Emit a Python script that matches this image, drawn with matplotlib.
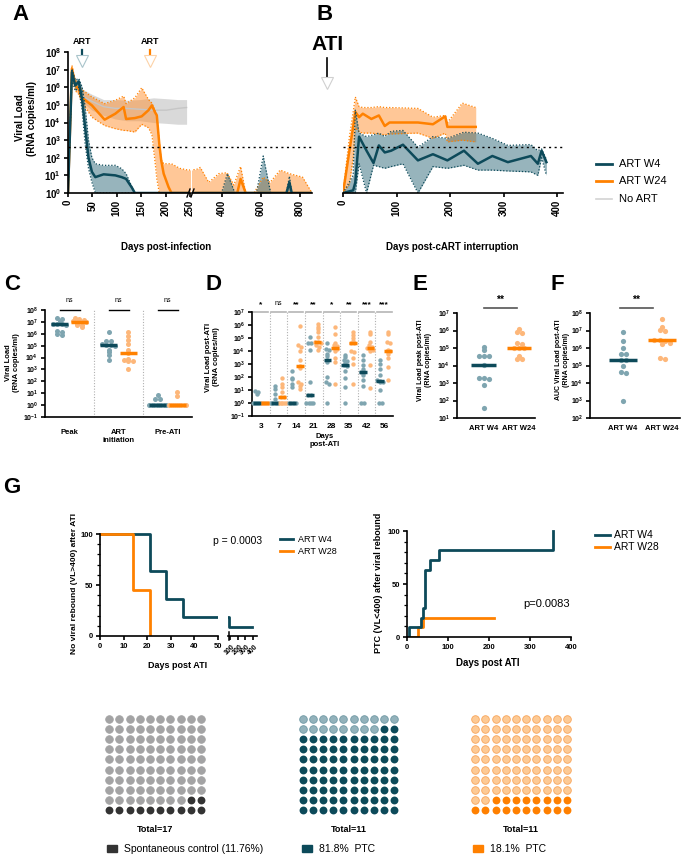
import numpy as np
import matplotlib
matplotlib.use('Agg')
import matplotlib.pyplot as plt
from matplotlib.lines import Line2D
from matplotlib.patches import Rectangle
from matplotlib.ticker import MultipleLocator, NullLocator
import matplotlib.transforms as mtransforms

plt.rcParams['font.family'] = ['Liberation Sans', 'DejaVu Sans']
plt.rcParams['mathtext.fontset'] = 'custom'
plt.rcParams['mathtext.rm'] = 'Liberation Sans'
plt.rcParams['mathtext.bf'] = 'Liberation Sans:bold'
plt.rcParams['axes.linewidth'] = 1.2
plt.rcParams['xtick.major.width'] = 1.2
plt.rcParams['ytick.major.width'] = 1.2
plt.rcParams['xtick.major.size'] = 3
plt.rcParams['ytick.major.size'] = 3
plt.rcParams['xtick.major.pad'] = 2
plt.rcParams['ytick.major.pad'] = 2

# colours
TEAL = '#0d4a5a'
TEAL_FILL = '#316b7b'
TEAL_DOT = '#7fa5b0'
ORANGE = '#ff8100'
ORANGE_FILL = '#ff9030'
ORANGE_DOT = '#fdb77a'
GREY_FILL = '#d9d9d9'

# ---------- A: viral load (log10) vs days post-infection
a_w4_days = [0, 8, 15, 22, 29, 35, 42, 49, 56, 73, 97, 110, 119, 131, 137,
             400, 430, 468, 578, 612, 650, 730, 745, 757, 860]
a_w4_mean = [0, 6.86, 6.1, 6.33, 5.3, 3.75, 2.0, 1.2, 0.9, 1.06, 1.0, 0.9, 0.8, 0.3, 0,
             0, 0, 0, 0, 0, 0, 0, 0.6, 0, 0]
a_w4_upper = [0, 7.05, 6.4, 6.5, 6.0, 4.9, 3.0, 2.0, 1.66, 1.57, 1.57, 1.38, 1.1, 0.34, 0,
              0, 1.1, 0, 0, 2.1, 0, 0, 0.95, 0, 0]
a_w4_lower = [0, 6.4, 5.8, 6.0, 4.7, 2.8, 1.4, 0.6, 0, 0, 0, 0, 0, 0, 0,
              0, 0, 0, 0, 0, 0, 0, 0, 0, 0]

a_w24_days = [0, 8, 15, 22, 27, 49, 75, 97, 114, 119, 137, 151, 165, 172, 178, 182, 187,
              191, 196, 206, 212, 229, 246, 275, 292, 335, 386, 428, 463, 480, 497, 523,
              565, 612, 647, 698, 745, 812, 860]
a_w24_mean = [0, 7.05, 6.1, 5.9, 5.45, 4.97, 4.16, 4.5, 4.88, 4.2, 4.25, 4.35, 4.7, 4.97,
              4.6, 4.4, 2.8, 1.85, 1.1, 0.34, 0, 0, 0, 0, 0, 0, 0, 0, 0, 0, 0.8, 0,
              0, 0, 0, 0, 0, 0, 0]
a_w24_upper = [0, 7.25, 6.4, 6.2, 5.9, 5.45, 5.07, 5.26, 5.5, 5.07, 5.4, 5.97, 5.3, 5.1,
               4.7, 4.45, 2.9, 1.9, 1.66, 1.66, 1.66, 1.4, 1.3, 1.35, 1.45, 0.6, 1.1, 1.15,
               0.45, 1.0, 1.5, 0, 0, 0.9, 0.6, 1.3, 1.1, 0.9, 0]
a_w24_lower = [0, 6.77, 5.8, 5.6, 5.2, 4.3, 3.83, 3.65, 3.55, 3.55, 3.46, 3.9, 3.7, 3.3,
               1.85, 0.8, 0, 0, 0, 0, 0, 0, 0, 0, 0, 0, 0, 0, 0, 0, 0, 0,
               0, 0, 0, 0, 0, 0, 0]

a_noart_days = [22, 49, 73, 97, 121, 148, 175, 202, 225, 243]
a_noart_mean = [5.6, 5.2, 4.9, 4.8, 4.8, 4.75, 4.7, 4.7, 4.8, 4.85]
a_noart_upper = [6.0, 5.6, 5.3, 5.3, 5.26, 5.3, 5.4, 5.35, 5.3, 5.3]
a_noart_lower = [5.35, 4.7, 4.4, 4.2, 4.1, 4.1, 4.0, 3.95, 3.9, 3.9]

art_start_days = [28, 168]

# ---------- B: viral load (log10) vs days post-cART interruption
b_w4_days = [0, 19, 23, 30, 44, 57, 67, 78, 90, 112, 140, 168, 195, 226, 252, 279, 308,
             351, 364, 371, 380]
b_w4_mean = [0, 0.15, 0.6, 3.2, 2.4, 1.7, 2.7, 2.3, 2.4, 2.74, 1.85, 2.2, 1.85, 2.4, 1.66,
             2.1, 1.75, 2.1, 1.66, 2.4, 1.75]
b_w4_upper = [0, 1.0, 4.7, 3.4, 3.2, 3.3, 3.4, 3.2, 3.5, 3.55, 2.6, 3.2, 3.1, 3.45, 3.4,
              3.1, 2.7, 2.75, 2.4, 2.5, 1.9]
b_w4_lower = [0, 0, 0, 1.66, 0, 1.57, 1.5, 1.4, 1.5, 1.66, 0, 1.5, 1.4, 1.57, 1.3,
              1.3, 1.25, 1.2, 1.0, 2.0, 1.0]

b_w24_days = [0, 12, 19, 23, 30, 37, 53, 67, 78, 87, 140, 168, 191, 195, 223, 248]
b_w24_mean = [0, 2.4, 3.75, 4.6, 4.3, 4.5, 4.2, 4.4, 3.8, 4.0, 4.0, 3.9, 4.35, 3.75, 3.75, 3.75]
b_w24_upper = [0, 3.2, 4.6, 5.45, 4.9, 4.85, 4.85, 4.9, 4.85, 4.85, 4.8, 4.3, 4.4, 4.0, 5.1, 4.85]
b_w24_lower = [0, 0.5, 2.0, 3.7, 3.46, 3.4, 3.4, 3.35, 3.3, 3.35, 3.4, 3.1, 3.4, 2.9, 3.0, 2.9]

# ---------- C: viral load at peak, ART initiation, pre-ATI (11 animals / group)
c_groups = ['Peak', 'ART\ninitiation', 'Pre-ATI']
c_w4 = [[2e7, 1.8e7, 1.2e7, 7e6, 7e6, 7e6, 6e6, 1.6e6, 1.5e6, 1e6, 8e5],
        [1.4e6, 2.5e5, 2.5e5, 1.3e5, 1.1e5, 1.1e5, 1e5, 4.5e4, 3e4, 1.8e4, 6e3],
        [7, 3, 3, 1, 1, 1, 1, 1, 1, 1, 1]]
c_w24 = [[2e7, 1.6e7, 1.5e7, 1.2e7, 1e7, 1e7, 9e6, 8e6, 6e6, 5e6, 4e6],
         [1.4e6, 6e5, 3e5, 1.5e5, 4e4, 2.4e4, 8e3, 6e3, 5e3, 5e3, 1e3],
         [12, 6, 1, 1, 1, 1, 1, 1, 1, 1, 1]]
c_signif = ['ns', 'ns', 'ns']

# ---------- D: viral load by day post-ATI
d_days = ['3', '7', '14', '21', '28', '35', '42', '56']
d_w4 = [[8, 7, 5, 1, 1, 1, 1, 1, 1, 1, 1],
        [20, 12, 5, 2, 1, 1, 1, 1, 1, 1, 1],
        [300, 90, 70, 30, 16, 1, 1, 1, 1, 1, 1],
        [1.2e5, 4e4, 4e4, 1.2e4, 40, 4, 4, 1, 1, 1, 1],
        [4e4, 1.5e4, 1.2e4, 6e3, 4e3, 2e3, 1.5e3, 100, 40, 30, 1],
        [5e3, 3.5e3, 2e3, 1.6e3, 1.2e3, 900, 700, 300, 90, 16, 1],
        [5e3, 2e3, 800, 400, 230, 230, 150, 60, 20, 1, 1],
        [2e3, 1e3, 400, 150, 60, 50, 45, 40, 10, 1, 1]]
d_w24 = [[1, 1, 1, 1, 1, 1, 1, 1, 1, 1, 1],
         [80, 30, 16, 7, 3, 3, 1, 1, 1, 1, 1],
         [8e5, 3e4, 2e4, 1e4, 2e3, 700, 500, 40, 30, 20, 12],
         [1.3e6, 7e5, 5e5, 3e5, 1.2e5, 5e4, 5e4, 4e4, 3e4, 2e4, 1.2e4],
         [7e5, 2e5, 4e4, 3e4, 2.5e4, 1.8e4, 1.5e4, 1e4, 3e3, 1.5e3, 30],
         [3e5, 1.6e5, 1e5, 6e4, 4e4, 4e4, 1e4, 8e3, 3e3, 1e3, 30],
         [3e5, 2e5, 5e4, 3e4, 2e4, 1.6e4, 1.5e4, 1.2e4, 1e4, 800, 14],
         [3e5, 2e5, 5e4, 4e4, 1.2e4, 1e4, 1e4, 6e3, 3e3, 600, 60]]
d_signif = ['*', 'ns', '**', '**', '*', '**', '***', '***']

# ---------- E / F: peak and AUC viral load post-ATI
e_w4 = [1.2e5, 8e4, 3.5e4, 3.5e4, 3.5e4, 1.1e4, 2e3, 2e3, 1.8e3, 800, 35]
e_w24 = [1.3e6, 8e5, 7e5, 1.9e5, 1.8e5, 1e5, 1e5, 1e5, 3.5e4, 2.5e4, 2.5e4]
f_w4 = [8.7e6, 2.5e6, 1e6, 4.5e5, 4.5e5, 2e5, 2e5, 1e5, 4e4, 3.5e4, 900]
f_w24 = [4.5e7, 1.6e7, 1.1e7, 1e7, 3e6, 2.8e6, 2.5e6, 2e6, 1.7e6, 2.7e5, 2.5e5]
ef_groups = ['ART W4', 'ART W24']

# ---------- G: survival-type curves
km1_w4_days = [0, 21, 28, 35, 90, 380]
km1_w4_pct = [100, 63.6, 36.4, 18.2, 9.1, 9.1]
km1_w28_days = [0, 14, 21]
km1_w28_pct = [100, 45.5, 0]
km2_w4_days = [0, 4, 34, 38, 43, 45, 57, 77, 355]
km2_w4_pct = [0, 9.1, 18.2, 27.3, 36.4, 63.6, 72.7, 81.8, 100]
km2_w28_days = [0, 28, 38, 212]
km2_w28_pct = [0, 9.1, 18.2, 18.2]

waffle_dark = [12, 82, 18]
waffle_totals = ['Total=17', 'Total=11', 'Total=11']
waffle_labels = ['Spontaneous control (11.76%)', '81.8%  PTC', '18.1%  PTC']

W, H = 685, 857
fig = plt.figure(figsize=(W / 100, H / 100), dpi=100)


def px_axes(x0, y0, x1, y1):
    return fig.add_axes([x0 / W, 1 - y1 / H, (x1 - x0) / W, (y1 - y0) / H])


def ftext(x, y, s, **kw):
    return fig.text(x / W, 1 - y / H, s, **kw)


def fline(xs, ys, **kw):
    fig.add_artist(Line2D([x / W for x in xs], [1 - y / H for y in ys], **kw))


def log_yticks(ax, lo, hi, size):
    ax.set_yticks([10.0 ** k for k in range(lo, hi + 1)])
    ax.set_yticklabels([r'$\mathbf{10^{%d}}$' % k for k in range(lo, hi + 1)], fontsize=size)
    ax.yaxis.set_minor_locator(NullLocator())


def band(ax, days, mean, upper, lower, line_col, fill_col, alpha, dotted=True, lw=1.8):
    d = np.asarray(days, float)
    m, u, l = (10.0 ** np.asarray(v, float) for v in (mean, upper, lower))
    ax.fill_between(d, l, u, color=fill_col, alpha=alpha, lw=0)
    if dotted:
        ax.plot(d, u, color=line_col, ls=(0, (1, 1.5)), lw=0.9)
        ax.plot(d, l, color=line_col, ls=(0, (1, 1.5)), lw=0.9)
    ax.plot(d, m, color=line_col, lw=lw)


def swarm_offsets(vals, step, max_half):
    keys = np.round(np.log10(vals) / 0.22)
    off = np.zeros(len(vals))
    for k in np.unique(keys):
        idx = np.where(keys == k)[0]
        n = len(idx)
        if n > 1:
            st = min(step, 2 * max_half / (n - 1))
            off[idx] = (np.arange(n) - (n - 1) / 2) * st
    return off


def dot_group(ax, x0, vals, dot_col, med_col, step, max_half, med_half, s):
    vals = np.asarray(vals, float)
    ax.scatter(x0 + swarm_offsets(vals, step, max_half), vals, s=s, color=dot_col,
               lw=0, zorder=3, clip_on=False)
    med = np.median(vals)
    ax.plot([x0 - med_half, x0 + med_half], [med, med], color=med_col, lw=2.5,
            solid_capstyle='butt', zorder=4)


def clean(ax):
    ax.spines[['top', 'right']].set_visible(False)


# ================= Panel A
axA1 = px_axes(68, 52, 190, 193)
axA2 = px_axes(192, 52, 312, 193)
for ax in (axA1, axA2):
    ax.set_yscale('log')
    ax.set_ylim(1, 1e8)
    band(ax, a_noart_days, a_noart_mean, a_noart_upper, a_noart_lower, '#c6c6c6', GREY_FILL, 1.0,
         dotted=False, lw=1.0)
    band(ax, a_w24_days, a_w24_mean, a_w24_upper, a_w24_lower, ORANGE, ORANGE_FILL, 0.5)
    band(ax, a_w4_days, a_w4_mean, a_w4_upper, a_w4_lower, TEAL, TEAL_FILL, 0.5)
    ax.axhline(400, color='black', ls=(0, (1.5, 2.5)), lw=1)
    clean(ax)
axA1.set_xlim(0, 250)
axA1.set_xticks([0, 50, 100, 150, 200, 250])
axA1.set_xticklabels(['0', '50', '100', '150', '200', '250'], rotation=90, fontsize=7,
                     fontweight='bold')
log_yticks(axA1, 0, 8, 7)
axA2.set_xlim(250, 860)
axA2.set_xticks([400, 600, 800])
axA2.set_xticklabels(['400', '600', '800'], rotation=90, fontsize=7, fontweight='bold')
axA2.spines['left'].set_visible(False)
axA2.tick_params(axis='y', which='both', left=False, labelleft=False)
fline([187, 190], [197, 189], color='black', lw=1)
fline([191, 194], [197, 189], color='black', lw=1)

trA = mtransforms.blended_transform_factory(axA1.transData, axA1.transAxes)
for day, col, light in zip(art_start_days, [TEAL, ORANGE], ['#a9c4cb', '#fcd2a8']):
    axA1.text(day, 1.078, 'ART', transform=trA, ha='center', va='center', fontsize=6.5,
              fontweight='bold', clip_on=False)
    axA1.plot([day, day], [1.015, 0.972], transform=trA, color=col, lw=1.6, clip_on=False)
    axA1.plot([day], [0.935], transform=trA, marker='v', ms=8, mfc='white', mec=light,
              mew=0.8, clip_on=False)

ftext(26, 118, 'Viral Load\n(RNA copies/ml)', rotation=90, ha='center', va='center',
      fontsize=7, fontweight='bold', multialignment='center')
ftext(166, 247, 'Days post-infection', ha='center', va='center', fontsize=7, fontweight='bold')

# ================= Panel B
axB = px_axes(343, 52, 563, 193)
axB.set_yscale('log')
axB.set_ylim(1, 1e8)
band(axB, b_w24_days, b_w24_mean, b_w24_upper, b_w24_lower, ORANGE, ORANGE_FILL, 0.5)
band(axB, b_w4_days, b_w4_mean, b_w4_upper, b_w4_lower, TEAL, TEAL_FILL, 0.5)
axB.axhline(400, color='black', ls=(0, (1.5, 2.5)), lw=1)
axB.set_xlim(0, 411)
axB.set_xticks([0, 100, 200, 300, 400])
axB.set_xticklabels(['0', '100', '200', '300', '400'], rotation=90, fontsize=7, fontweight='bold')
axB.spines[['top', 'right', 'left']].set_visible(False)
axB.tick_params(axis='y', which='both', left=False, labelleft=False)
ftext(452, 247, 'Days post-cART interruption', ha='center', va='center', fontsize=7,
      fontweight='bold')
ftext(328, 44, 'ATI', ha='center', va='center', fontsize=15, fontweight='bold')
fline([327, 327], [58, 78], color='black', lw=1.2)
fig.add_artist(Line2D([327 / W], [1 - 83 / H], marker='v', ms=8, mfc='white', mec='#d0d0d0',
                      mew=0.8))

for y, col, lab in zip([164, 181, 199], [TEAL, ORANGE, '#d3d3d3'], ['ART W4', 'ART W24', 'No ART']):
    fline([596, 612], [y, y], color=col, lw=2 if lab != 'No ART' else 1.2)
    ftext(619, y, lab, ha='left', va='center', fontsize=8)

# ================= Panel C
axC = px_axes(45, 310, 192, 417)
axC.set_yscale('log')
axC.set_ylim(0.1, 1e8)
axC.set_xlim(-0.5, 2.5)
trC = mtransforms.blended_transform_factory(axC.transData, axC.transAxes)
for i in range(3):
    dot_group(axC, i - 0.2, c_w4[i], TEAL_DOT, TEAL, 0.09, 0.17, 0.17, 13)
    dot_group(axC, i + 0.2, c_w24[i], ORANGE_DOT, ORANGE, 0.09, 0.17, 0.17, 13)
    axC.plot([i - 0.2, i + 0.22], [1.0, 1.0], transform=trC, color='black', lw=1, clip_on=False)
    axC.text(i, 1.06, c_signif[i], transform=trC, ha='center', va='bottom', fontsize=5)
for xv in [0.5, 1.5]:
    axC.axvline(xv, color='#b0b0b0', ls=(0, (1, 1.5)), lw=0.8)
log_yticks(axC, -1, 8, 5)
axC.set_xticks([0, 1, 2])
axC.set_xticklabels(c_groups, fontsize=5.5, fontweight='bold')
axC.tick_params(axis='x', length=0, pad=9)
clean(axC)
ftext(12, 363, 'Viral Load\n(RNA copies/ml)', rotation=90, ha='center', va='center', fontsize=5.5,
      fontweight='bold', multialignment='center')

# ================= Panel D
axD = px_axes(252, 312, 393, 416)
axD.set_yscale('log')
axD.set_ylim(0.1, 1e7)
axD.set_xlim(-0.5, 7.5)
trD = mtransforms.blended_transform_factory(axD.transData, axD.transAxes)
for i in range(8):
    dot_group(axD, i - 0.22, d_w4[i], TEAL_DOT, TEAL, 0.17, 0.2, 0.22, 10)
    dot_group(axD, i + 0.22, d_w24[i], ORANGE_DOT, ORANGE, 0.17, 0.2, 0.22, 10)
    axD.plot([i - 0.42, i + 0.42], [1.0, 1.0], transform=trD, color='#b5b5b5', lw=1.2,
             clip_on=False)
    if d_signif[i] == 'ns':
        axD.text(i, 1.05, 'ns', transform=trD, ha='center', va='bottom', fontsize=5)
    else:
        axD.text(i, 1.04, d_signif[i], transform=trD, ha='center', va='bottom', fontsize=6,
                 fontweight='bold')
for xv in np.arange(0.5, 7.5, 1.0):
    axD.axvline(xv, color='#b0b0b0', ls=(0, (1, 1.5)), lw=0.8)
log_yticks(axD, -1, 7, 5)
axD.set_xticks(range(8))
axD.set_xticklabels(d_days, fontsize=6, fontweight='bold')
axD.tick_params(axis='x', length=0, pad=5)
clean(axD)
ftext(325, 440, 'Days\npost-ATI', ha='center', va='center', fontsize=5.5, fontweight='bold',
      multialignment='center')
ftext(213, 357, 'Viral Load post-ATI\n(RNA copies/ml)', rotation=90, ha='center', va='center',
      fontsize=5.5, fontweight='bold', multialignment='center')

# ================= Panel E
axE = px_axes(457, 313, 535, 418)
axE.set_yscale('log')
axE.set_ylim(10, 1e7)
axE.set_xlim(-0.75, 1.45)
dot_group(axE, 0, e_w4, TEAL_DOT, TEAL, 0.14, 0.33, 0.35, 14)
dot_group(axE, 1, e_w24, ORANGE_DOT, ORANGE, 0.14, 0.33, 0.35, 14)
trE = mtransforms.blended_transform_factory(axE.transData, axE.transAxes)
axE.plot([0.0, 0.95], [1.05, 1.05], transform=trE, color='#555555', lw=1.2, clip_on=False)
axE.text(0.47, 1.08, '**', transform=trE, ha='center', va='bottom', fontsize=7.5, fontweight='bold')
log_yticks(axE, 1, 7, 5)
axE.set_xticks([0, 1])
axE.set_xticklabels(ef_groups, fontsize=5.5, fontweight='bold')
axE.tick_params(axis='x', length=0, pad=5)
clean(axE)
ftext(425, 360, 'Viral Load peak post-ATI\n(RNA copies/ml)', rotation=90, ha='center',
      va='center', fontsize=5, fontweight='bold', multialignment='center')

# ================= Panel F
axF = px_axes(590, 313, 680, 418)
axF.set_yscale('log')
axF.set_ylim(100, 1e8)
axF.set_xlim(-0.85, 1.46)
dot_group(axF, 0, f_w4, TEAL_DOT, TEAL, 0.13, 0.33, 0.35, 14)
dot_group(axF, 1, f_w24, ORANGE_DOT, ORANGE, 0.13, 0.33, 0.35, 14)
trF = mtransforms.blended_transform_factory(axF.transData, axF.transAxes)
axF.plot([-0.08, 0.77], [1.05, 1.05], transform=trF, color='#555555', lw=1.2, clip_on=False)
axF.text(0.33, 1.08, '**', transform=trF, ha='center', va='bottom', fontsize=7.5, fontweight='bold')
log_yticks(axF, 2, 8, 5)
axF.set_xticks([0, 1])
axF.set_xticklabels(ef_groups, fontsize=5.5, fontweight='bold')
axF.tick_params(axis='x', length=0, pad=5)
clean(axF)
ftext(563, 360, 'AUC Viral Load post-ATI\n(RNA copies/ml)', rotation=90, ha='center',
      va='center', fontsize=5, fontweight='bold', multialignment='center')

# ================= Panel G (survival curves)
axG1 = px_axes(100, 532, 218, 636)
axG2 = px_axes(228, 532, 257, 636)
for ax in (axG1, axG2):
    ax.step(km1_w4_days, km1_w4_pct, where='post', color=TEAL, lw=2)
    ax.step(km1_w28_days, km1_w28_pct, where='post', color=ORANGE, lw=2)
    ax.set_ylim(0, 102)
    clean(ax)
axG1.spines['left'].set_bounds(0, 100)
axG1.set_xlim(0, 50)
axG1.set_xticks([0, 10, 20, 30, 40, 50])
axG1.set_xticklabels(['0', '10', '20', '30', '40', '50'], fontsize=5.5, fontweight='bold')
axG1.set_yticks([0, 50, 100])
axG1.set_yticklabels(['0', '50', '100'], fontsize=5.5, fontweight='bold')
axG1.yaxis.set_minor_locator(MultipleLocator(10))
axG1.tick_params(axis='y', which='minor', length=2, width=0.9)
axG2.set_xlim(75, 450)
axG2.set_xticks([100, 200, 300, 400])
axG2.set_xticklabels(['100', '200', '300', '400'], rotation=45, fontsize=5, fontweight='bold')
axG2.spines['left'].set_visible(False)
axG2.tick_params(axis='y', which='both', left=False, labelleft=False)
fline([229, 229], [632, 640], color='black', lw=1.1)
ftext(178, 665, 'Days post ATI', ha='center', va='center', fontsize=6.5, fontweight='bold')
ftext(75, 583, 'No viral rebound (VL>400) after ATI', rotation=90, ha='center', va='center',
      fontsize=6, fontweight='bold')
ftext(213, 541, 'p = 0.0003', ha='left', va='center', fontsize=7.5)
for y, col, lab in zip([539, 551], [TEAL, ORANGE], ['ART W4', 'ART W28']):
    fline([280, 293], [y, y], color=col, lw=2)
    ftext(298, y, lab, ha='left', va='center', fontsize=6.5)

axG3 = px_axes(407, 529, 571, 637)
axG3.step(km2_w28_days, km2_w28_pct, where='post', color=ORANGE, lw=2)
axG3.step(km2_w4_days, km2_w4_pct, where='post', color=TEAL, lw=2)
axG3.set_xlim(0, 400)
axG3.set_ylim(0, 102)
axG3.spines['left'].set_bounds(0, 100)
clean(axG3)
axG3.set_xticks([0, 100, 200, 300, 400])
axG3.set_xticklabels(['0', '100', '200', '300', '400'], fontsize=5.5, fontweight='bold')
axG3.set_yticks([0, 50, 100])
axG3.set_yticklabels(['0', '50', '100'], fontsize=5.5, fontweight='bold')
axG3.yaxis.set_minor_locator(MultipleLocator(10))
axG3.tick_params(axis='y', which='minor', length=2, width=0.9)
ftext(488, 663, 'Days post ATI', ha='center', va='center', fontsize=7, fontweight='bold')
ftext(379, 583, 'PTC (VL<400) after viral rebound', rotation=90, ha='center', va='center',
      fontsize=6.5, fontweight='bold')
ftext(523, 604, 'p=0.0083', ha='left', va='center', fontsize=8)
for y, col, lab in zip([535, 547], [TEAL, ORANGE], ['ART W4', 'ART W28']):
    fline([595, 610], [y, y], color=col, lw=2)
    ftext(614, y, lab, ha='left', va='center', fontsize=7.5)

# ================= waffles
waffle_boxes = [(104, 206), (298, 399), (470, 572)]
waffle_light = [('#a3a3a4', '#a3a3a4'), ('#93b2bb', '#6f98a4'), ('#fdca95', '#f9a55a')]
waffle_darkc = ['#333333', '#0c4a5a', '#ff8000']
waffle_leg_x = [107, 302, 473]
for j in range(3):
    x0, x1 = waffle_boxes[j]
    ax = px_axes(x0, 714, x1, 815)
    cols = np.arange(100) % 10
    rows = np.arange(100) // 10
    xs = 9 - cols
    dark = np.arange(100) < waffle_dark[j]
    ax.scatter(xs[~dark], rows[~dark], s=30, color=waffle_light[j][0],
               edgecolors=waffle_light[j][1], linewidths=0.6)
    ax.scatter(xs[dark], rows[dark], s=32, color=waffle_darkc[j], lw=0)
    ax.set_xlim(-0.5, 9.5)
    ax.set_ylim(-0.5, 9.5)
    ax.axis('off')
    ftext((x0 + x1) / 2, 829, waffle_totals[j], ha='center', va='center', fontsize=6.5,
          fontweight='bold')
    lx = waffle_leg_x[j]
    fig.add_artist(Rectangle((lx / W, 1 - 852 / H), 10 / W, 7 / H, color=waffle_darkc[j],
                             transform=fig.transFigure))
    ftext(lx + 17, 849, waffle_labels[j], ha='left', va='center', fontsize=7.5)

# ================= panel letters
for lab, x, y in [('A', 12, 15), ('B', 316, 15), ('C', 4, 285), ('D', 205, 285),
                  ('E', 413, 285), ('F', 550, 285), ('G', 3, 488)]:
    ftext(x, y, lab, ha='left', va='center', fontsize=16, fontweight='bold')

fig.savefig('out.png', dpi=100)
